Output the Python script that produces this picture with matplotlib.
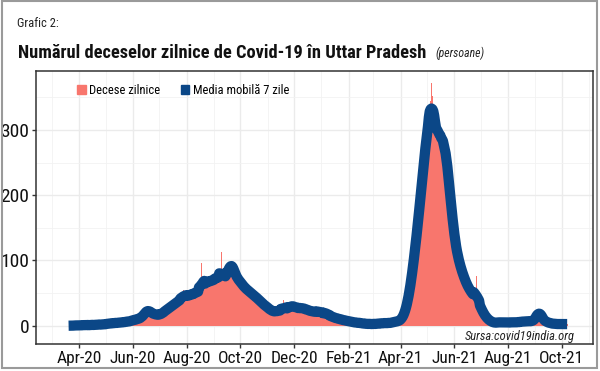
import pandas as pd
import matplotlib
matplotlib.use("Agg")
import matplotlib.pyplot as plt
import matplotlib.dates as mdates
from matplotlib import font_manager as fm
from matplotlib.patches import Patch, Rectangle

# Decese zilnice, Uttar Pradesh, o lista pe luna
mar20 = [0, 0, 0, 0, 0, 0, 0, 1, 0, 1, 0, 1]  # incepe la 20 martie 2020
apr20 = [0, 1, 1, 0, 1, 1, 0, 2, 1, 0, 1, 1, 2, 1, 0, 2, 1, 1, 2, 1,
         2, 1, 2, 1, 2, 3, 2, 1, 2, 3]
may20 = [2, 3, 3, 2, 4, 3, 4, 3, 4, 5, 4, 3, 5, 4, 5, 4, 5, 6, 4, 5,
         6, 5, 6, 7, 5, 6, 7, 6, 8, 7, 8]
jun20 = [8, 9, 10, 8, 11, 9, 10, 12, 11, 13, 12, 14, 16, 18, 20, 22, 24, 23, 25, 22,
         21, 19, 20, 18, 17, 19, 16, 18, 17, 16]
jul20 = [17, 18, 16, 19, 20, 21, 22, 24, 23, 25, 26, 28, 27, 29, 31, 30, 32, 33, 34, 36,
         35, 37, 38, 40, 39, 41, 43, 55, 44, 45, 46]
aug20 = [44, 47, 46, 48, 45, 49, 47, 50, 48, 51, 49, 52, 50, 53, 54, 52, 55, 96, 60, 62,
         65, 66, 68, 64, 67, 70, 66, 69, 71, 68, 70]
sep20 = [69, 72, 70, 73, 84, 71, 74, 75, 72, 113, 72, 74, 73, 75, 76, 78, 82, 88, 94, 98,
         96, 92, 88, 84, 80, 76, 74, 72, 70, 68]
oct20 = [68, 66, 64, 62, 60, 58, 57, 55, 56, 54, 53, 52, 50, 49, 48, 47, 46, 45, 44, 42,
         41, 40, 38, 37, 36, 34, 33, 32, 31, 30, 29]
nov20 = [28, 27, 26, 24, 23, 22, 23, 21, 22, 23, 21, 22, 24, 23, 22, 25, 24, 23, 40, 25,
         24, 27, 26, 28, 27, 29, 30, 31, 29, 30]
dec20 = [31, 29, 27, 28, 26, 27, 28, 26, 27, 29, 26, 25, 27, 26, 24, 25, 23, 24, 22, 23,
         21, 22, 23, 21, 22, 20, 21, 22, 20, 27, 19]
jan21 = [19, 20, 18, 21, 19, 17, 24, 16, 17, 15, 14, 16, 14, 13, 12, 13, 12, 11, 12, 10,
         11, 10, 9, 10, 9, 8, 9, 8, 7, 8, 7]
feb21 = [7, 6, 7, 6, 5, 6, 5, 4, 5, 6, 4, 5, 4, 3, 4, 5, 3, 4, 3, 2,
         3, 4, 2, 3, 3, 2, 3, 2]
mar21 = [3, 2, 3, 4, 3, 2, 3, 4, 3, 4, 3, 5, 4, 3, 4, 5, 4, 3, 5, 4,
         5, 4, 5, 6, 5, 6, 7, 6, 7, 8, 8]
apr21 = [8, 10, 12, 15, 18, 22, 26, 31, 37, 44, 52, 61, 70, 80, 90, 101, 113, 125, 137, 150,
         163, 176, 190, 204, 218, 232, 246, 260, 274, 288]
may21 = [296, 304, 312, 320, 345, 372, 352, 318, 312, 305, 300, 298, 305, 294, 290, 300, 286, 280, 288, 276,
         282, 270, 258, 245, 232, 218, 204, 190, 176, 162, 148]
jun21 = [136, 128, 120, 112, 106, 100, 95, 90, 86, 82, 78, 74, 70, 67, 64, 61, 58, 56, 54, 52,
         50, 48, 46, 45, 43, 76, 40, 37, 34, 31]
jul21 = [28, 25, 22, 19, 17, 15, 13, 12, 10, 9, 8, 7, 6, 6, 5, 5, 4, 5, 4, 5,
         5, 6, 5, 6, 5, 4, 6, 5, 6, 5, 4]
aug21 = [5, 6, 4, 6, 5, 4, 6, 5, 6, 5, 4, 6, 5, 6, 7, 6, 5, 7, 6, 7,
         6, 8, 7, 6, 7, 6, 8, 7, 7, 8, 9]
sep21 = [10, 13, 17, 21, 24, 22, 18, 14, 11, 9, 8, 7, 6, 6, 5, 5, 4, 4, 3, 4,
         3, 3, 2, 3, 3, 2, 3, 2, 3, 2]
oct21 = [3, 2, 3, 2, 3, 2, 3]

month_starts = ["2020-03-20", "2020-04-01", "2020-05-01", "2020-06-01", "2020-07-01",
                "2020-08-01", "2020-09-01", "2020-10-01", "2020-11-01", "2020-12-01",
                "2021-01-01", "2021-02-01", "2021-03-01", "2021-04-01", "2021-05-01",
                "2021-06-01", "2021-07-01", "2021-08-01", "2021-09-01", "2021-10-01"]
month_values = [mar20, apr20, may20, jun20, jul20, aug20, sep20, oct20, nov20, dec20,
                jan21, feb21, mar21, apr21, may21, jun21, jul21, aug21, sep21, oct21]

y_ticks = [0, 100, 200, 300]

deaths = pd.concat([pd.Series(v, index=pd.date_range(s, periods=len(v), freq="D"))
                    for s, v in zip(month_starts, month_values)])
ma7 = deaths.rolling(7, center=True, min_periods=1).mean()

# font ingust, daca exista
names = {f.name for f in fm.fontManager.ttflist}
narrow = next((n for n in ["Liberation Sans Narrow", "Roboto Condensed", "Open Sans Condensed",
                           "DejaVu Sans Condensed"] if n in names), "Liberation Sans")
plt.rcParams["font.family"] = [narrow, "DejaVu Sans"]

fig = plt.figure(figsize=(6, 3.71), dpi=100)
ax = fig.add_axes([36 / 600, 1 - 344.3 / 371, 556.7 / 600, 273.6 / 371])

ax.bar(deaths.index, deaths.values, width=1.0, color="#F8766D", linewidth=0,
       antialiased=False, zorder=2)
ax.plot(ma7.index, ma7.values, color="#0B4787", lw=7.4,
        solid_capstyle="butt", solid_joinstyle="round", zorder=3)

ax.set_xlim(pd.Timestamp("2020-02-12"), pd.Timestamp("2021-11-05"))
ax.set_ylim(-28.5, 391)
ax.set_yticks(y_ticks)
ax.set_yticks([50, 150, 250, 350], minor=True)
ax.xaxis.set_major_locator(mdates.MonthLocator(bymonth=[2, 4, 6, 8, 10, 12]))
ax.xaxis.set_major_formatter(mdates.DateFormatter("%b-%y"))
ax.xaxis.set_minor_locator(mdates.MonthLocator(bymonth=[1, 3, 5, 7, 9, 11]))

ax.grid(which="major", color="#EBEBEB", lw=1.0, zorder=0)
ax.grid(which="minor", color="#F2F2F2", lw=0.6, zorder=0)
ax.set_axisbelow(True)
ax.tick_params(which="major", length=3, width=1, color="#333333",
               labelcolor="#111111", pad=2)
ax.tick_params(axis="y", which="major", labelsize=14)
ax.tick_params(axis="x", which="major", labelsize=12.5)
ax.tick_params(which="minor", length=0)
for s in ax.spines.values():
    s.set_color("#333333")
    s.set_linewidth(1.1)

handles = [Patch(color="#F8766D"), Patch(color="#0B4787")]
ax.legend(handles, ["Decese zilnice", "Media mobilă 7 zile"], loc="center left",
          bbox_to_anchor=(0.0737, 0.9276), ncol=2, frameon=False, borderpad=0,
          borderaxespad=0, handlelength=0.7, handleheight=0.7, handletextpad=0.25,
          columnspacing=1.65, fontsize=9)

ax.text(0.968, 0.016, "Sursa:covid19india.org", transform=ax.transAxes,
        ha="right", va="baseline", fontsize=9, style="italic", color="#222222")

fig.text(17 / 600, 1 - 27 / 371, "Grafic 2:", fontsize=9, color="#222222")
fig.text(18 / 600, 1 - 58 / 371, "Numărul deceselor zilnice de Covid-19 în Uttar Pradesh",
         fontsize=13.2, fontweight="bold", color="#111111")
fig.text(435 / 600, 1 - 57 / 371, "(persoane)", fontsize=8.5, style="italic", color="#222222")

fig.add_artist(Rectangle((1.5 / 600, 1 - 367.5 / 371), 595.5 / 600, 366.5 / 371,
                         transform=fig.transFigure, fill=False, ec="#9A9A9A", lw=1.5))

fig.savefig("out.png", dpi=100)
